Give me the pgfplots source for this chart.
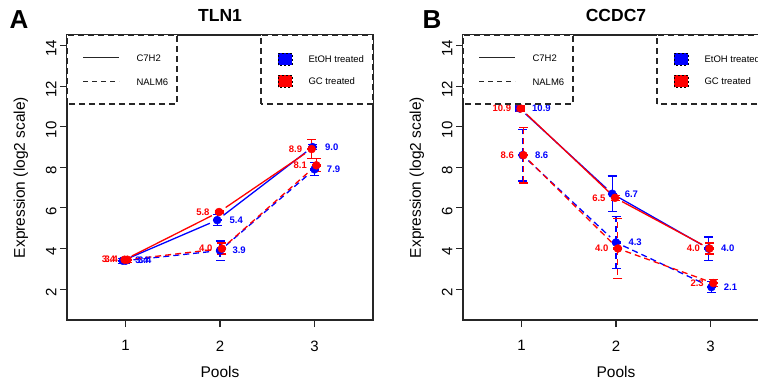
\documentclass[border=0pt]{standalone}
\usepackage{fontspec}
\setmainfont{Liberation Sans}
\usepackage{pgfplots}
\pgfplotsset{compat=1.18}
\usetikzlibrary{arrows.meta}
\definecolor{rblue}{RGB}{0,0,255}
\definecolor{rred}{RGB}{255,0,0}
\pgfplotsset{
 panel/.style={
  scale only axis, width=306pt, height=285pt,
  xmin=0.38, xmax=3.62, ymin=0.48, ymax=14.52,
  xtick={1,2,3}, ytick={2,4,6,8,10,12,14},
  tick align=outside, tick pos=left, major tick length=7pt,
  axis line style={black!85, line width=1.2pt},
  every tick/.style={black!85, line width=1.1pt},
  /pgf/number format/assume math mode=true,
  ticklabel style={font=\fontsize{15}{18}\selectfont},
  xticklabel style={yshift=-10pt},
  yticklabel style={rotate=90, anchor=south, xshift=-3pt},
  label style={font=\fontsize{15.5}{18}\selectfont},
  xlabel=Pools, ylabel=Expression (log2 scale),
  xlabel style={at={(axis description cs:0.5,-0.2018)}, anchor=base},
  ylabel style={at={(axis description cs:-0.1373,0.5)}, anchor=base},
  title style={font=\bfseries\fontsize{17.5}{20}\selectfont, at={(axis description cs:0.5,1)}, anchor=base, yshift=7pt},
 },
 pts/.style={only marks, mark=*, mark size=4pt, color=#1,
   /pgfplots/error bars/y dir=both, /pgfplots/error bars/y explicit, /pgfplots/error bars/error mark=none,
   /pgfplots/error bars/error bar style={line width=1.2pt, #1, arrows={Bar[width=9pt,line width=1.2pt]-Bar[width=9pt,line width=1.2pt]}}},
 dpts/.style={pts=#1, /pgfplots/error bars/error bar style={dash pattern=on 6pt off 4pt}},
 lab/.style={draw=none, nodes near coords, point meta=explicit symbolic,
   nodes near coords style={anchor=west, xshift=9pt, text=#1, font=\bfseries\fontsize{9.5}{11}\selectfont}},
 rlab/.style={draw=none, nodes near coords, point meta=explicit symbolic,
   nodes near coords style={anchor=east, xshift=-6pt, text=#1, font=\bfseries\fontsize{9.5}{11}\selectfont}},
 sseg/.style={color=#1, line width=1.3pt, shorten <=8pt, shorten >=8pt},
 dseg/.style={color=#1, line width=1.3pt, dash pattern=on 6pt off 4pt, shorten <=8pt, shorten >=8pt},
}
\newcommand{\legendsat}[2]{%
 \begin{scope}[shift={(#1,0)}]
  \filldraw[fill=white, draw=black!85, dash pattern=on 6pt off 4pt, line width=1.2pt] (0,276) rectangle (110,345);
  \draw[black!85, line width=1pt] (16,322) -- (52,322);
  \draw[black!85, line width=1pt, dash pattern=on 5pt off 4pt] (16,298) -- (52,298);
  \node[anchor=west, font=\fontsize{9.5}{11}\selectfont] at (66,322) {C7H2};
  \node[anchor=west, font=\fontsize{9.5}{11}\selectfont] at (66,298) {NALM6};
  \filldraw[fill=white, draw=black!85, dash pattern=on 6pt off 4pt, line width=1.2pt] (194,276) rectangle (#2,345);
  \filldraw[fill=rblue, draw=black, dash pattern=on 2pt off 2pt, line width=0.8pt] (211,315) rectangle (225,327);
  \filldraw[fill=rred, draw=black, dash pattern=on 2pt off 2pt, line width=0.8pt] (211,293) rectangle (225,305);
  \node[anchor=west, font=\fontsize{9.5}{11}\selectfont] at (238,321) {EtOH treated};
  \node[anchor=west, font=\fontsize{9.5}{11}\selectfont] at (238,299) {GC treated};
 \end{scope}}
\begin{document}
\begin{tikzpicture}[x=1pt,y=1pt]
\useasboundingbox (0pt,0pt) rectangle (758pt,380pt);
% ---------------- Panel A ----------------
\begin{axis}[panel, at={(67pt,60pt)}, anchor=south west, title={TLN1}]
 \addplot[sseg=rblue] coordinates {(0.97,3.4) (1.97,5.4)};
 \addplot[sseg=rblue] coordinates {(1.97,5.4) (2.98,9.0)};
 \addplot[dseg=rblue] coordinates {(1.00,3.4) (2.00,3.9)};
 \addplot[dseg=rblue] coordinates {(2.00,3.9) (3.00,7.9)};
 \addplot[sseg=rred] coordinates {(0.99,3.45) (1.99,5.8)};
 \addplot[sseg=rred] coordinates {(1.99,5.8) (2.97,8.9)};
 \addplot[dseg=rred] coordinates {(1.02,3.45) (2.02,4.0)};
 \addplot[dseg=rred] coordinates {(2.02,4.0) (3.02,8.1)};
 \addplot[pts=rblue] table[x=x,y=y,y error=e] {
x y e
0.97 3.4 0.15
1.97 5.4 0.30
2.98 9.0 0.15
};
 \addplot[dpts=rblue] table[x=x,y=y,y error=e] {
x y e
1.00 3.4 0.15
2.00 3.9 0.50
3.00 7.9 0.35
};
 \addplot[pts=rred] table[x=x,y=y,y error=e] {
x y e
0.99 3.45 0.15
1.99 5.8 0.12
2.97 8.9 0.50
};
 \addplot[dpts=rred] table[x=x,y=y,y error=e] {
x y e
1.02 3.45 0.15
2.02 4.0 0.30
3.02 8.1 0.35
};
 \addplot[lab=rblue] table[x=x,y=y,meta=l] {
x y l
0.97 3.4 3.4
1.97 5.4 5.4
2.98 9.0 9.0
1.00 3.4 3.4
2.00 3.9 3.9
3.00 7.9 7.9
};
 \addplot[rlab=rred] table[x=x,y=y,meta=l] {
x y l
0.99 3.45 3.4
1.99 5.8 5.8
2.97 8.9 8.9
1.02 3.45 3.4
2.02 4.0 4.0
3.02 8.1 8.1
};
\end{axis}
% ---------------- Panel B ----------------
\begin{axis}[panel, at={(463pt,60pt)}, anchor=south west, title={CCDC7}]
 \addplot[sseg=rblue] coordinates {(0.98,10.9) (1.96,6.7)};
 \addplot[sseg=rblue] coordinates {(1.96,6.7) (2.98,4.0)};
 \addplot[dseg=rblue] coordinates {(1.01,8.6) (2.00,4.3)};
 \addplot[dseg=rblue] coordinates {(2.00,4.3) (3.01,2.1)};
 \addplot[sseg=rred] coordinates {(0.99,10.9) (1.99,6.5)};
 \addplot[sseg=rred] coordinates {(1.99,6.5) (2.99,4.0)};
 \addplot[dseg=rred] coordinates {(1.02,8.6) (2.02,4.0)};
 \addplot[dseg=rred] coordinates {(2.02,4.0) (3.03,2.3)};
 \addplot[pts=rblue] table[x=x,y=y,y error=e] {
x y e
0.98 10.9 0.15
1.96 6.7 0.90
2.98 4.0 0.60
};
 \addplot[dpts=rblue] table[x=x,y=y,y error=e] {
x y e
1.01 8.6 1.30
2.00 4.3 1.30
3.01 2.1 0.30
};
 \addplot[pts=rred] table[x=x,y=y,y error=e] {
x y e
0.99 10.9 0.15
1.99 6.5 0.15
2.99 4.0 0.30
};
 \addplot[dpts=rred] table[x=x,y=y,y error=e] {
x y e
1.02 8.6 1.40
2.02 4.0 1.50
3.03 2.3 0.20
};
 \addplot[lab=rblue] table[x=x,y=y,meta=l] {
x y l
0.98 10.9 10.9
1.96 6.7 6.7
2.98 4.0 4.0
1.01 8.6 8.6
2.00 4.3 4.3
3.01 2.1 2.1
};
 \addplot[rlab=rred] table[x=x,y=y,meta=l] {
x y l
0.99 10.9 10.9
1.99 6.5 6.5
2.99 4.0 4.0
1.02 8.6 8.6
2.02 4.0 4.0
3.03 2.3 2.3
};
\end{axis}
\legendsat{67}{306}
\legendsat{463}{320}
\node[font=\bfseries\fontsize{26}{28}\selectfont] at (19,360) {A};
\node[font=\bfseries\fontsize{26}{28}\selectfont] at (432,360) {B};
\end{tikzpicture}
\end{document}
